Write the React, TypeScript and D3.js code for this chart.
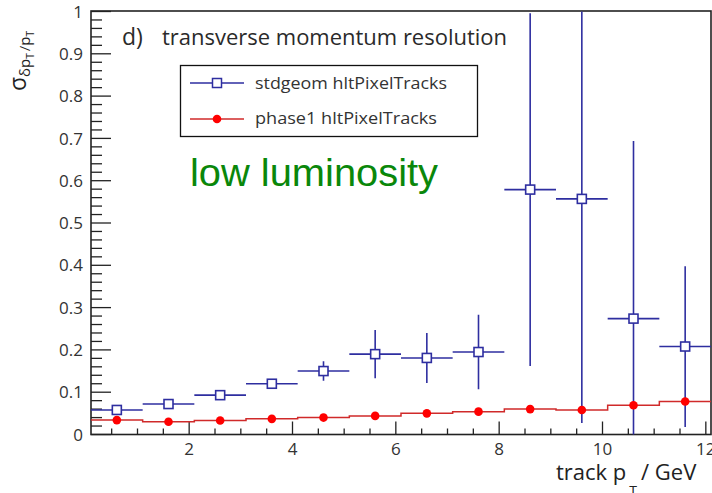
import React from "react";
import * as d3 from "d3";

// Track pT bins (GeV): centres, half width 0.5
const binCenters = [0.6, 1.6, 2.6, 3.6, 4.6, 5.6, 6.6, 7.6, 8.6, 9.6, 10.6, 11.6];
const binHalfWidth = 0.5;

// sigma(delta pT / pT) per bin
const stdgeomValues = [0.058, 0.072, 0.093, 0.12, 0.15, 0.19, 0.181, 0.195, 0.579, 0.557, 0.274, 0.208];
const stdgeomErrors = [0.003, 0.004, 0.005, 0.007, 0.023, 0.057, 0.059, 0.088, 0.417, 0.53, 0.42, 0.19];
const phase1Values = [0.034, 0.03, 0.033, 0.037, 0.04, 0.044, 0.05, 0.054, 0.06, 0.058, 0.069, 0.078];

const yTickValues = [0, 0.1, 0.2, 0.3, 0.4, 0.5, 0.6, 0.7, 0.8, 0.9, 1];
const xTickValues = [2, 4, 6, 8, 10, 12];
const seriesNames = ["stdgeom hltPixelTracks", "phase1 hltPixelTracks"];

const W = 712;
const H = 493;
const plot = { left: 91, right: 711, top: 11.5, bottom: 434.5 };

const BLUE = "#2e2ea0";
const RED_LINE = "#d02a2a";
const RED_MARK = "#ff0000";
const AXIS = "#222";
const FONT = "'Open Sans', 'DejaVu Sans', sans-serif";

export default function App() {
  const x = d3.scaleLinear().domain([0.1, 12.1]).range([plot.left, plot.right]);
  const y = d3.scaleLinear().domain([0, 1]).range([plot.bottom, plot.top]);

  const yMinor = d3.range(0, 1.0001, 0.02);
  const xMinor = d3.range(0.5, 12.1, 0.5);

  // phase1 drawn as a step outline across the bin edges
  const stepPts: [number, number][] = [];
  binCenters.forEach((c, i) => {
    stepPts.push([c - binHalfWidth, phase1Values[i]]);
    stepPts.push([c + binHalfWidth, phase1Values[i]]);
  });
  const stepLine = d3
    .line<[number, number]>()
    .x((d) => x(d[0]))
    .y((d) => y(d[1]));

  const sq = 9;

  return (
    <svg
      width={W}
      height={H}
      style={{ position: "absolute", left: 0, top: 0, background: "#fff" }}
      fontFamily={FONT}
    >
      <defs>
        <clipPath id="plotArea">
          <rect x={plot.left} y={plot.top} width={plot.right - plot.left} height={plot.bottom - plot.top} />
        </clipPath>
      </defs>
      <rect x={0} y={0} width={W} height={H} fill="#fff" />

      {/* frame */}
      <rect
        x={plot.left}
        y={plot.top - 0.5}
        width={plot.right - plot.left}
        height={plot.bottom - plot.top + 0.5}
        fill="none"
        stroke={AXIS}
        strokeWidth={1.6}
      />

      {/* y axis ticks */}
      {yMinor.map((v, i) => {
        const major = i % 5 === 0;
        return (
          <line
            key={"ym" + i}
            x1={plot.left}
            x2={plot.left + (major ? 20 : 11)}
            y1={y(v)}
            y2={y(v)}
            stroke={AXIS}
            strokeWidth={1.3}
          />
        );
      })}
      {yTickValues.map((v) => (
        <text
          key={"yl" + v}
          x={83}
          y={y(v)}
          dy="0.36em"
          textAnchor="end"
          fontSize={17}
          fill="#333"
        >
          {d3.format("~g")(v)}
        </text>
      ))}

      {/* x axis ticks */}
      {xMinor.map((v, i) => {
        const major = Math.abs(v / 2 - Math.round(v / 2)) < 1e-6;
        return (
          <line
            key={"xm" + i}
            x1={x(v)}
            x2={x(v)}
            y1={plot.bottom}
            y2={plot.bottom - (major ? 13 : 6)}
            stroke={AXIS}
            strokeWidth={1.3}
          />
        );
      })}
      {xTickValues.map((v) => (
        <text key={"xl" + v} x={x(v)} y={455} textAnchor="middle" fontSize={17} fill="#333">
          {v}
        </text>
      ))}

      {/* axis titles */}
      <text x={556} y={480} fontSize={22} fill="#222">
        track p
        <tspan fontSize={14} dy={16} dx={3}>T</tspan>
        <tspan dy={-16} dx={4}>/ GeV</tspan>
      </text>
      <text transform="translate(26,91) rotate(-90)" fontSize={23} fill="#222">
        σ
        <tspan fontSize={15} dy={4}>δp</tspan>
        <tspan fontSize={10} dy={4}>T</tspan>
        <tspan fontSize={15} dy={-4} dx={2}>/p</tspan>
        <tspan fontSize={10} dy={4}>T</tspan>
      </text>

      {/* title */}
      <text x={122} y={45} fontSize={23} fill="#2a2a2a">
        d)
      </text>
      <text x={162} y={45} fontSize={22} fill="#2a2a2a" textLength={345} lengthAdjust="spacingAndGlyphs">
        transverse momentum resolution
      </text>

      {/* data */}
      <g clipPath="url(#plotArea)">
        <path d={stepLine(stepPts) || ""} fill="none" stroke={RED_LINE} strokeWidth={1.5} />
        {binCenters.map((c, i) => (
          <g key={"b" + i}>
            <line
              x1={x(c - binHalfWidth)}
              x2={x(c + binHalfWidth)}
              y1={y(stdgeomValues[i])}
              y2={y(stdgeomValues[i])}
              stroke={BLUE}
              strokeWidth={1.6}
            />
            <line
              x1={x(c)}
              x2={x(c)}
              y1={y(stdgeomValues[i] - stdgeomErrors[i])}
              y2={y(stdgeomValues[i] + stdgeomErrors[i])}
              stroke={BLUE}
              strokeWidth={1.6}
            />
            <rect
              x={x(c) - sq / 2}
              y={y(stdgeomValues[i]) - sq / 2}
              width={sq}
              height={sq}
              fill="#fff"
              stroke={BLUE}
              strokeWidth={1.6}
            />
            <circle cx={x(c)} cy={y(phase1Values[i])} r={4.3} fill={RED_MARK} />
          </g>
        ))}
      </g>

      {/* legend */}
      <rect x={180.5} y={65.5} width={297} height={71} fill="#fff" stroke="#111" strokeWidth={1.3} />
      <line x1={190} x2={244} y1={83} y2={83} stroke={BLUE} strokeWidth={1.5} />
      <rect x={212.5} y={78.5} width={9} height={9} fill="#fff" stroke={BLUE} strokeWidth={1.5} />
      <text x={255} y={89} fontSize={17} fill="#333" textLength={192} lengthAdjust="spacingAndGlyphs">
        {seriesNames[0]}
      </text>
      <line x1={190} x2={244} y1={119} y2={119} stroke={RED_LINE} strokeWidth={1.5} />
      <circle cx={217} cy={119} r={4.3} fill={RED_MARK} />
      <text x={255} y={124} fontSize={17} fill="#333" textLength={182} lengthAdjust="spacingAndGlyphs">
        {seriesNames[1]}
      </text>

      {/* annotation */}
      <text
        x={190}
        y={186}
        fontSize={38}
        fill="#0a870a"
        fontFamily="'Liberation Sans', Arial, sans-serif"
        textLength={248}
        lengthAdjust="spacingAndGlyphs"
      >
        low luminosity
      </text>
    </svg>
  );
}
